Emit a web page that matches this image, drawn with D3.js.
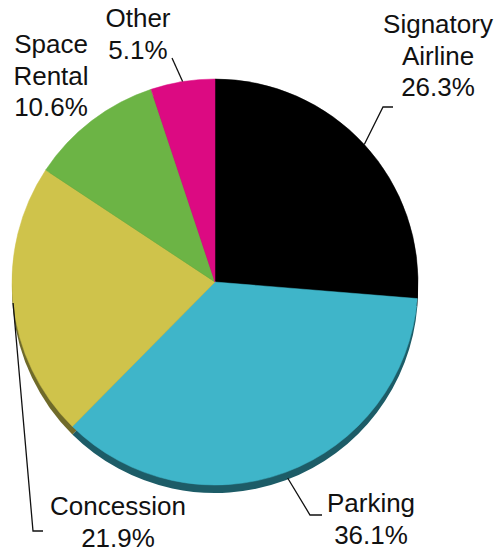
<!DOCTYPE html>
<html>
<head>
<meta charset="utf-8">
<script src="https://cdn.jsdelivr.net/npm/d3@7"></script>
<style>
  html, body { margin: 0; padding: 0; background: #fff; }
  text { font-family: "Liberation Sans", Arial, sans-serif; fill: #111; }
</style>
</head>
<body>
<script>
// slice data, clockwise from 12 o'clock
var categories = [["Signatory", "Airline"], ["Parking"], ["Concession"], ["Space", "Rental"], ["Other"]];
var values = [26.3, 36.1, 21.9, 10.6, 5.1];
var colors = ["#000000", "#3fb5c9", "#cfc34b", "#6cb445", "#dc0a82"];
var shadowColors = ["#000000", "#1d5c67", "#6f6a2a", "#3f6a28", "#7a0848"];

var width = 499, height = 552,
    cx = 215, cy = 282, radius = 203,
    fontSize = 26, lineHeight = 31.5;

// label anchor (centre x, baseline of first line) and leader elbow, per slice
var labelLayout = [
    { x: 438, y: 33, elbow: [[383, 107], [393, 107]] },
    { x: 371, y: 512, elbow: [[310, 515], [322, 515]] },
    { x: 118, y: 515, elbow: [[33, 531], [43, 531]] },
    { x: 51, y: 53, elbow: null },
    { x: 138, y: 27, elbow: [[172, 58]] }
];

var svg = d3.select("body").append("svg")
    .attr("width", width)
    .attr("height", height);

var pie = d3.pie().sort(null).value(function (d) { return d; });
var arcs = pie(values);

var arc = d3.arc().innerRadius(0).outerRadius(radius);

// 3d rim under the pie
svg.append("g")
    .attr("transform", "translate(" + cx + "," + (cy + 8) + ")")
    .selectAll("path")
    .data(arcs)
    .enter().append("path")
    .attr("d", arc)
    .attr("fill", function (d, i) { return shadowColors[i]; });

svg.append("g")
    .attr("transform", "translate(" + cx + "," + cy + ")")
    .selectAll("path")
    .data(arcs)
    .enter().append("path")
    .attr("d", arc)
    .attr("fill", function (d, i) { return colors[i]; })
    .attr("stroke", function (d, i) { return colors[i]; })
    .attr("stroke-width", 0.5);

// leader lines start on the rim at each slice's mid angle
arcs.forEach(function (d, i) {
    var lay = labelLayout[i];
    if (!lay.elbow) return;
    var a = (d.startAngle + d.endAngle) / 2;
    var r = radius + (Math.cos(a) < -0.5 ? 6 : 0);
    var pts = [[cx + r * Math.sin(a), cy - r * Math.cos(a)]].concat(lay.elbow);
    svg.append("path")
        .attr("d", d3.line()(pts))
        .attr("fill", "none")
        .attr("stroke", "#111")
        .attr("stroke-width", 1.3);
});

var labels = svg.selectAll(".label")
    .data(arcs)
    .enter().append("text")
    .attr("class", "label")
    .attr("text-anchor", "middle")
    .attr("font-size", fontSize);

labels.each(function (d, i) {
    var lines = categories[i].concat([values[i].toFixed(1) + "%"]);
    var t = d3.select(this);
    lines.forEach(function (s, j) {
        t.append("tspan")
            .attr("x", labelLayout[i].x)
            .attr("y", labelLayout[i].y + j * lineHeight)
            .text(s);
    });
});
</script>
</body>
</html>
